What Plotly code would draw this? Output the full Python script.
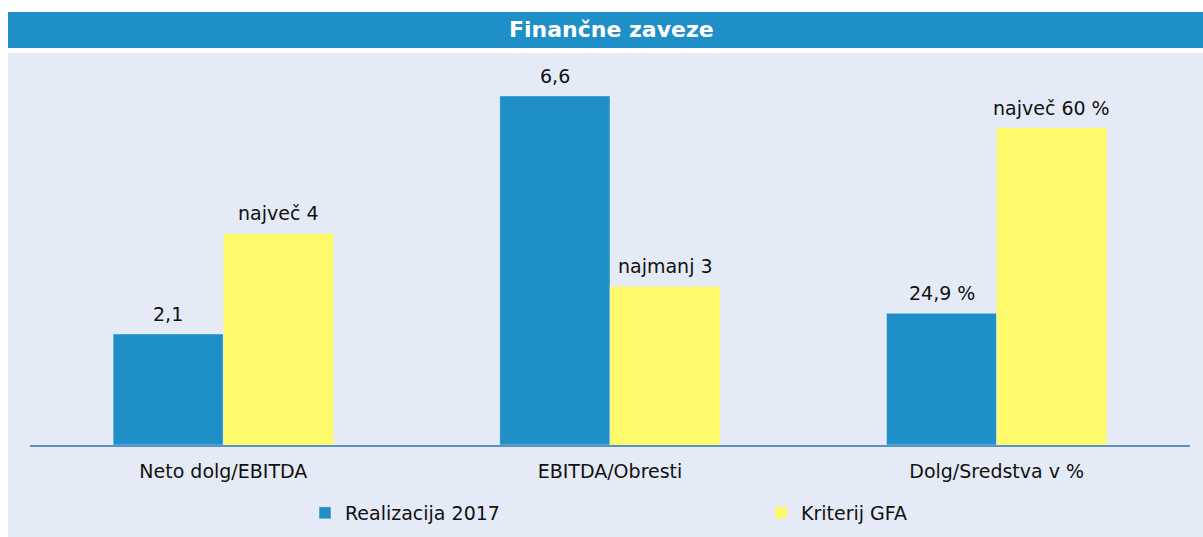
import plotly.graph_objects as go

# ----------------------------------------------------------------------
# Data
# ----------------------------------------------------------------------
categories = ["Neto dolg/EBITDA", "EBITDA/Obresti", "Dolg/Sredstva v %"]

realizacija = [2.1, 6.6, 24.9]
kriterij = [4, 3, 60]
# the % category is drawn in tens of percent so it shares the axis
plot_scale = [1, 1, 0.1]

realizacija_labels = ["2,1", "6,6", "24,9 %"]
kriterij_labels = ["največ 4", "najmanj 3", "največ 60 %"]

series_names = ["Realizacija 2017", "Kriterij GFA"]

# ----------------------------------------------------------------------
# Style
# ----------------------------------------------------------------------
BLUE = "#1F8FC8"
YELLOW = "#FFFA6A"
BG = "#E4EBF6"
FONT = "DejaVu Sans, sans-serif"
FS = 19
TXT = "#111111"

W, H = 1203, 537
ML, MR, MT, MB = 30, 13, 70, 92
PW, PH = W - ML - MR, H - MT - MB
BAR_PX = 110  # width of one bar, used to shift labels over their bar


def px_x(x):
    return (x - ML) / PW


def px_y(y):
    return (H - MB - y) / PH


real_y = [v * s for v, s in zip(realizacija, plot_scale)]
krit_y = [v * s for v, s in zip(kriterij, plot_scale)]

fig = go.Figure()
fig.add_trace(go.Bar(
    x=categories, y=real_y, name=series_names[0], showlegend=True,
    marker_color=BLUE, hoverinfo="skip", legend="legend",
))
fig.add_trace(go.Bar(
    x=categories, y=krit_y, name=series_names[1], showlegend=True,
    marker_color=YELLOW, hoverinfo="skip", legend="legend2",
))

# value labels above the bars
annotations = []
for cat, yv, lab in zip(categories, real_y, realizacija_labels):
    annotations.append(dict(
        x=cat, y=yv, text=lab, showarrow=False, xanchor="center",
        yanchor="bottom", xshift=-BAR_PX / 2, yshift=7,
        font=dict(family=FONT, size=FS, color=TXT)))
for cat, yv, lab in zip(categories, krit_y, kriterij_labels):
    annotations.append(dict(
        x=cat, y=yv, text=lab, showarrow=False, xanchor="center",
        yanchor="bottom", xshift=BAR_PX / 2, yshift=7,
        font=dict(family=FONT, size=FS, color=TXT)))

annotations.append(dict(
    text="<b>Finančne zaveze</b>", xref="paper", yref="paper",
    x=px_x(612), y=px_y(30), showarrow=False,
    xanchor="center", yanchor="middle",
    font=dict(family=FONT, size=22, color="#FFFFFF")))

legend_style = dict(
    orientation="h", xanchor="left", yanchor="middle",
    xref="container", yref="container",
    bgcolor="rgba(0,0,0,0)",
    font=dict(family=FONT, size=FS, color=TXT),
)

fig.update_layout(
    width=W,
    height=H,
    margin=dict(l=ML, r=MR, t=MT, b=MB),
    paper_bgcolor=BG,
    plot_bgcolor=BG,
    barmode="group",
    bargap=0.43,
    bargroupgap=0,
    showlegend=True,
    font=dict(family=FONT, size=FS, color=TXT),
    xaxis=dict(
        showgrid=False,
        showline=True,
        linecolor="#5E90C2",
        linewidth=1.5,
        ticks="",
        ticklabelstandoff=8,
        tickfont=dict(family=FONT, size=FS, color=TXT),
    ),
    yaxis=dict(range=[0, 7.09], visible=False, showgrid=False, zeroline=False),
    legend=dict(x=305 / W, y=1 - 513 / H, **legend_style),
    legend2=dict(x=761 / W, y=1 - 513 / H, **legend_style),
    shapes=[
        # white strip above the panel
        dict(type="rect", xref="paper", yref="paper",
             x0=px_x(-5), x1=px_x(W + 5), y0=px_y(53), y1=px_y(-5),
             fillcolor="#FFFFFF", line_width=0, layer="below"),
        # white strip left of the panel
        dict(type="rect", xref="paper", yref="paper",
             x0=px_x(-5), x1=px_x(8), y0=px_y(H + 5), y1=px_y(-5),
             fillcolor="#FFFFFF", line_width=0, layer="below"),
        # title bar
        dict(type="rect", xref="paper", yref="paper",
             x0=px_x(8), x1=px_x(W + 5), y0=px_y(48), y1=px_y(12),
             fillcolor=BLUE, line_width=0, layer="below"),
    ],
    annotations=annotations,
)

fig.write_html(
    "out.html",
    config={"displayModeBar": False},
    post_script="document.body.style.margin='0px';",
)
